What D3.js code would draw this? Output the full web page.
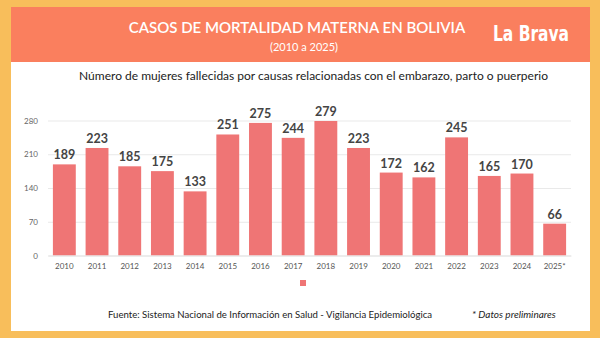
<!DOCTYPE html>
<html>
<head>
<meta charset="utf-8">
<script src="https://cdn.jsdelivr.net/npm/d3@7/dist/d3.min.js"></script>
<style>
  html, body { margin: 0; padding: 0; background: #F8BE5B; }
  svg { display: block; }
</style>
</head>
<body>
<svg id="chart" width="600" height="338"></svg>
<script>
// Maternal deaths in Bolivia, 2010–2025
const years = ["2010","2011","2012","2013","2014","2015","2016","2017","2018","2019","2020","2021","2022","2023","2024","2025*"];
const deaths = [189, 223, 185, 175, 133, 251, 275, 244, 279, 223, 172, 162, 245, 165, 170, 66];
const yTicks = [0, 70, 140, 210, 280];

const title = "CASOS DE MORTALIDAD MATERNA EN BOLIVIA";
const period = "(2010 a 2025)";
const subtitle = "Número de mujeres fallecidas por causas relacionadas con el embarazo, parto o puerperio";
const source = "Fuente: Sistema Nacional de Información en Salud - Vigilancia Epidemiológica";
const note = "* Datos preliminares";

const svg = d3.select("#chart");
const font = "Lato, 'Open Sans', sans-serif";
const barColor = "#EF7575";

// Frame: orange page, white card, coral header
svg.append("rect").attr("x", 0).attr("y", 0).attr("width", 600).attr("height", 338).attr("fill", "#F8BE5B");
svg.append("rect").attr("x", 11).attr("y", 7).attr("width", 579).attr("height", 324).attr("fill", "#ffffff");
svg.append("rect").attr("x", 11).attr("y", 7).attr("width", 579).attr("height", 55).attr("fill", "#FA7F5E");

svg.append("text").attr("x", 297).attr("y", 33).attr("text-anchor", "middle")
  .attr("font-family", font).attr("font-size", 15).attr("font-weight", 600)
  .attr("fill", "#ffffff").text(title);
svg.append("text").attr("x", 304).attr("y", 51).attr("text-anchor", "middle")
  .attr("font-family", font).attr("font-size", 11).attr("fill", "#ffffff").text(period);

// Logo
svg.append("text").attr("x", 531).attr("y", 41).attr("text-anchor", "middle")
  .attr("font-family", "'DejaVu Sans Condensed', 'DejaVu Sans', sans-serif")
  .attr("font-size", 21).attr("font-weight", 700)
  .attr("transform", "translate(531,0) scale(0.82,1) translate(-531,0)")
  .attr("fill", "#ffffff").text("La Brava");

svg.append("text").attr("x", 313.5).attr("y", 80).attr("text-anchor", "middle")
  .attr("font-family", font).attr("font-size", 12).attr("fill", "#222222").text(subtitle);

// Scales
const x = d3.scaleBand().domain(years).range([48, 571]).paddingInner(0.3).paddingOuter(0.15);
const y = d3.scaleLinear().domain([0, 280]).range([255.5, 120.5]);

// Gridlines and y labels
const yAxis = svg.append("g")
  .attr("transform", "translate(48,0)")
  .call(d3.axisLeft(y).tickValues(yTicks).tickSize(-523).tickPadding(10));
yAxis.select(".domain").remove();
yAxis.selectAll(".tick line").attr("stroke", "#e9e9e9").attr("stroke-width", 1);
yAxis.selectAll(".tick text").attr("font-family", font).attr("font-size", 8).attr("fill", "#666666");

// Bars
svg.append("g").selectAll("rect").data(deaths).join("rect")
  .attr("x", (d, i) => x(years[i]))
  .attr("y", d => y(d))
  .attr("width", x.bandwidth())
  .attr("height", d => y(0) - y(d))
  .attr("fill", barColor);

// Value labels
svg.append("g").selectAll("text").data(deaths).join("text")
  .attr("x", (d, i) => x(years[i]) + x.bandwidth() / 2)
  .attr("y", d => y(d) - 5)
  .attr("text-anchor", "middle")
  .attr("font-family", font).attr("font-size", 12.5).attr("font-weight", 700)
  .attr("fill", "#444444").text(d => d);

// X axis
const xAxis = svg.append("g")
  .attr("transform", `translate(0,${y(0)})`)
  .call(d3.axisBottom(x).tickSize(0).tickPadding(8));
xAxis.select(".domain").attr("stroke", "#e4e4e4");
xAxis.selectAll(".tick text").attr("font-family", font).attr("font-size", 8).attr("fill", "#555555");

// Legend swatch
svg.append("rect").attr("x", 300).attr("y", 280).attr("width", 6).attr("height", 6).attr("fill", barColor);

// Footer
svg.append("text").attr("x", 108).attr("y", 318)
  .attr("font-family", font).attr("font-size", 9.6).attr("fill", "#222222").text(source);
svg.append("text").attr("x", 472).attr("y", 318)
  .attr("font-family", font).attr("font-size", 10).attr("font-style", "italic")
  .attr("fill", "#222222").text(note);
</script>
</body>
</html>
